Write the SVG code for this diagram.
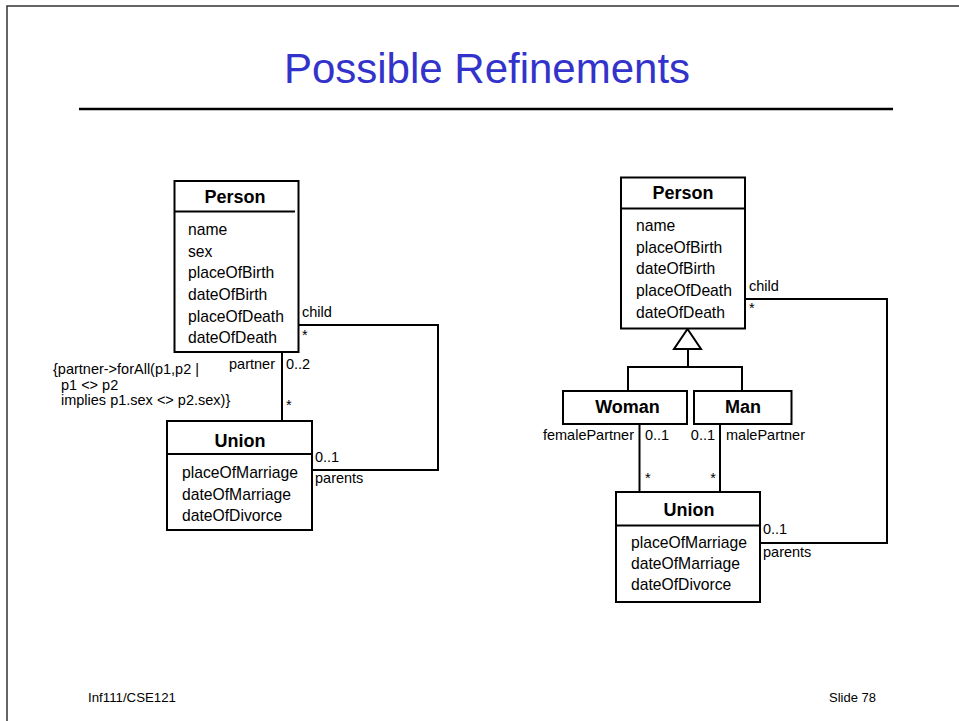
<svg xmlns="http://www.w3.org/2000/svg" width="959" height="721" viewBox="0 0 959 721">
  <style>
    text { font-family: "Liberation Sans", Arial, sans-serif; fill: #000; }
    .title { font-size: 42px; fill: #3333cc; }
    .cls { font-size: 18px; font-weight: bold; text-anchor: middle; }
    .attr { font-size: 15.7px; }
    .lbl { font-size: 14.5px; }
    .end { text-anchor: end; }
    .foot { font-size: 13.5px; }
    .box { fill: #fff; stroke: #000; stroke-width: 2; }
    .div { stroke: #000; stroke-width: 2; }
    .wire { fill: none; stroke: #000; stroke-width: 2; }
  </style>

  <!-- slide frame -->
  <g id="frame">
    <path d="M7 721 V6 H959" fill="none" stroke="#333" stroke-width="1.5"/>
    <text class="title" x="487" y="83" text-anchor="middle">Possible Refinements</text>
    <line x1="79" y1="109" x2="893" y2="109" stroke="#000" stroke-width="2.5"/>
    <text class="foot" x="88" y="702" textLength="88" lengthAdjust="spacingAndGlyphs">Inf111/CSE121</text>
    <text class="foot" x="829" y="702" textLength="47" lengthAdjust="spacingAndGlyphs">Slide 78</text>
  </g>

  <!-- connectors -->
  <g id="connectors">
    <!-- left: Person partner association to Union -->
    <line class="wire" x1="282" y1="352" x2="282" y2="421"/>
    <!-- left: child / parents association -->
    <polyline class="wire" points="299,325 438,325 438,470 312,470"/>
    <!-- right: generalization -->
    <polygon points="687.5,329 674,349 701,349" fill="#fff" stroke="#000" stroke-width="2"/>
    <polyline class="wire" points="688,349 688,367"/>
    <polyline class="wire" points="628,391 628,367 742,367 742,391"/>
    <!-- right: partner associations -->
    <line class="wire" x1="639.5" y1="424" x2="639.5" y2="492"/>
    <line class="wire" x1="720" y1="424" x2="720" y2="492"/>
    <!-- right: child / parents association -->
    <polyline class="wire" points="745,299 887,299 887,543 760,543"/>

    <!-- role names and multiplicities -->
    <text class="lbl" x="302" y="317">child</text>
    <text class="lbl" x="302" y="340">*</text>
    <text class="lbl end" x="275" y="369">partner</text>
    <text class="lbl" x="286" y="369">0..2</text>
    <text class="lbl" x="286" y="410">*</text>
    <text class="lbl" x="315" y="462">0..1</text>
    <text class="lbl" x="315" y="483">parents</text>
    <text class="lbl" x="53" y="374">{partner-&gt;forAll(p1,p2 |</text>
    <text class="lbl" x="61" y="390">p1 &lt;&gt; p2</text>
    <text class="lbl" x="61" y="405">implies p1.sex &lt;&gt; p2.sex)}</text>

    <text class="lbl" x="749" y="291">child</text>
    <text class="lbl" x="749" y="313">*</text>
    <text class="lbl end" x="634" y="440">femalePartner</text>
    <text class="lbl" x="645" y="440">0..1</text>
    <text class="lbl" x="645" y="483">*</text>
    <text class="lbl end" x="715" y="440">0..1</text>
    <text class="lbl" x="726" y="440">malePartner</text>
    <text class="lbl end" x="716" y="483">*</text>
    <text class="lbl" x="763" y="534">0..1</text>
    <text class="lbl" x="763" y="557">parents</text>
  </g>

  <!-- left Person -->
  <g id="person-left">
    <rect class="box" x="174.5" y="181" width="124" height="171"/>
    <line class="div" x1="174.5" y1="211.5" x2="295" y2="211.5"/>
    <text class="cls" x="235" y="203">Person</text>
    <text class="attr" x="188" y="235">name</text>
    <text class="attr" x="188" y="257">sex</text>
    <text class="attr" x="188" y="278">placeOfBirth</text>
    <text class="attr" x="188" y="300">dateOfBirth</text>
    <text class="attr" x="188" y="322">placeOfDeath</text>
    <text class="attr" x="188" y="343">dateOfDeath</text>
  </g>

  <!-- left Union -->
  <g id="union-left">
    <rect class="box" x="167" y="421" width="145" height="109"/>
    <line class="div" x1="167" y1="454" x2="312" y2="454"/>
    <text class="cls" x="240" y="447">Union</text>
    <text class="attr" x="182" y="478">placeOfMarriage</text>
    <text class="attr" x="182" y="500">dateOfMarriage</text>
    <text class="attr" x="182" y="521">dateOfDivorce</text>
  </g>

  <!-- right Person -->
  <g id="person-right">
    <rect class="box" x="621" y="177.5" width="124" height="151"/>
    <line class="div" x1="621" y1="208.5" x2="745" y2="208.5"/>
    <text class="cls" x="683" y="198.5">Person</text>
    <text class="attr" x="636" y="231">name</text>
    <text class="attr" x="636" y="252.5">placeOfBirth</text>
    <text class="attr" x="636" y="274">dateOfBirth</text>
    <text class="attr" x="636" y="296">placeOfDeath</text>
    <text class="attr" x="636" y="317.5">dateOfDeath</text>
  </g>

  <!-- Woman -->
  <g id="woman">
    <rect class="box" x="563" y="391" width="124" height="33"/>
    <text class="cls" x="627.5" y="413">Woman</text>
  </g>

  <!-- Man -->
  <g id="man">
    <rect class="box" x="694" y="391" width="97.5" height="33"/>
    <text class="cls" x="743" y="413">Man</text>
  </g>

  <!-- right Union -->
  <g id="union-right">
    <rect class="box" x="616" y="492" width="144" height="110"/>
    <line class="div" x1="616" y1="525.5" x2="760" y2="525.5"/>
    <text class="cls" x="689" y="516">Union</text>
    <text class="attr" x="631" y="547.5">placeOfMarriage</text>
    <text class="attr" x="631" y="569">dateOfMarriage</text>
    <text class="attr" x="631" y="590">dateOfDivorce</text>
  </g>
</svg>
